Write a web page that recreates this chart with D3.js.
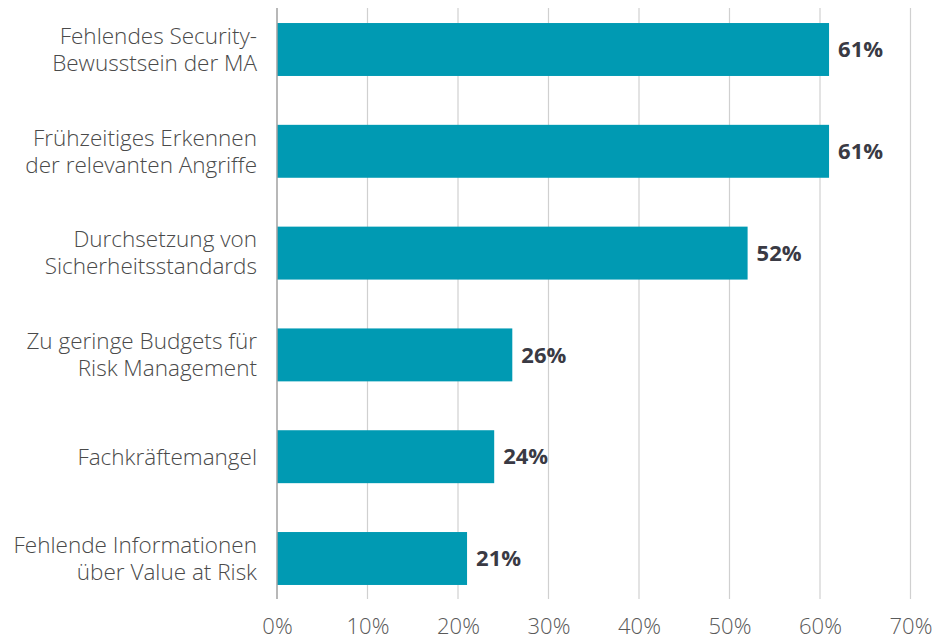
<!DOCTYPE html>
<html>
<head>
<meta charset="utf-8">
<script src="https://cdn.jsdelivr.net/npm/d3@7"></script>
<style>
  html, body { margin: 0; padding: 0; background: #fff; }
  svg { display: block; font-family: "Open Sans", sans-serif; }
</style>
</head>
<body>
<svg id="chart" width="947" height="638"></svg>
<script>
// Herausforderungen im Bereich Security, Anteil der Nennungen
const categories = [
  ["Fehlendes Security-", "Bewusstsein der MA"],
  ["Frühzeitiges Erkennen", "der relevanten Angriffe"],
  ["Durchsetzung von", "Sicherheitsstandards"],
  ["Zu geringe Budgets für", "Risk Management"],
  ["Fachkräftemangel"],
  ["Fehlende Informationen", "über Value at Risk"]
];
const values = [61, 61, 52, 26, 24, 21];
const ticks = [0, 10, 20, 30, 40, 50, 60, 70];

const svg = d3.select("#chart");
const plotLeft = 277, plotRight = 910.5, plotTop = 8, plotBottom = 599;

const x = d3.scaleLinear().domain([0, 70]).range([plotLeft, plotRight]);
const y = d3.scaleBand()
  .domain(d3.range(categories.length))
  .range([-1.4, 609.4])
  .paddingInner(0.48)
  .paddingOuter(0.24);

// vertical gridlines
svg.append("g")
  .selectAll("line")
  .data(ticks.filter(t => t > 0))
  .join("line")
  .attr("x1", d => x(d)).attr("x2", d => x(d))
  .attr("y1", plotTop).attr("y2", plotBottom)
  .attr("stroke", "#d0d0d0").attr("stroke-width", 1.2);

// x axis tick labels
const xAxis = d3.axisBottom(x).tickValues(ticks).tickFormat(d => d + "%").tickSize(0).tickPadding(0);
const gx = svg.append("g").attr("transform", `translate(0,${plotBottom})`).call(xAxis);
gx.select(".domain").remove();
gx.selectAll("text")
  .attr("y", 35)
  .attr("dy", 0)
  .attr("font-size", 22)
  .attr("font-weight", 300)
  .attr("font-family", "'Open Sans', sans-serif")
  .attr("fill", "#5a5a5a");

// bars
svg.append("g")
  .selectAll("rect")
  .data(values)
  .join("rect")
  .attr("x", x(0))
  .attr("y", (d, i) => y(i))
  .attr("width", d => x(d) - x(0))
  .attr("height", y.bandwidth())
  .attr("fill", "#009ab3");

// baseline at 0%
svg.append("line")
  .attr("x1", x(0)).attr("x2", x(0))
  .attr("y1", plotTop).attr("y2", plotBottom)
  .attr("stroke", "#a0a0a0").attr("stroke-width", 1.5);

// value labels
svg.append("g")
  .selectAll("text")
  .data(values)
  .join("text")
  .attr("x", d => x(d) + 9)
  .attr("y", (d, i) => y(i) + y.bandwidth() / 2)
  .attr("dy", "0.35em")
  .attr("font-size", 22)
  .attr("font-weight", 700)
  .attr("fill", "#3a3a44")
  .text(d => d + "%");

// category labels
const lineH = 27;
const labels = svg.append("g")
  .selectAll("text")
  .data(categories)
  .join("text")
  .attr("text-anchor", "end")
  .attr("font-size", 22.5)
  .attr("font-weight", 300)
  .attr("fill", "#4a4a4a");
labels.each(function(lines, i) {
  const cy = y(i) + y.bandwidth() / 2;
  const t = d3.select(this);
  lines.forEach((ln, k) => {
    t.append("tspan")
      .attr("x", 257)
      .attr("y", cy + (k - (lines.length - 1) / 2) * lineH)
      .attr("dy", "0.35em")
      .text(ln);
  });
});
</script>
</body>
</html>
